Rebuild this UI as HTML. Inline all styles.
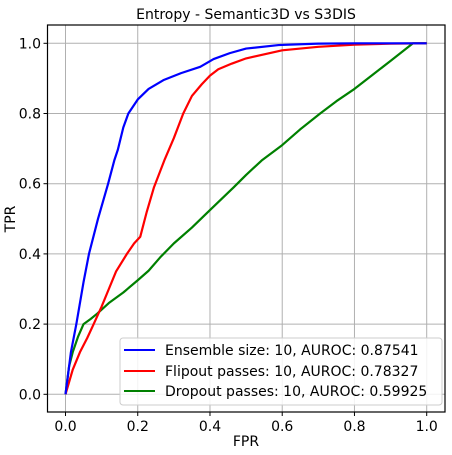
<!DOCTYPE html>
<html><head><meta charset="utf-8"><style>
html,body{margin:0;padding:0;background:#fff;}
svg{display:block;font-family:"DejaVu Sans","Liberation Sans",sans-serif;}
</style></head><body>
<svg id="chart" width="452" height="455">
<rect width="452" height="455" fill="#fff"/>
<text x="246" y="19" text-anchor="middle" font-size="14">Entropy - Semantic3D vs S3DIS</text>
<g id="grid"></g>
<g id="series"></g>
<rect x="47.5" y="25" width="397.5" height="387" fill="none" stroke="#000" stroke-width="1.2"/>
<g id="ticks" font-size="14"></g>
<text x="246" y="446" text-anchor="middle" font-size="14">FPR</text>
<text transform="translate(15,219) rotate(-90)" text-anchor="middle" font-size="14">TPR</text>
<g>
<rect x="120" y="338" width="322" height="67" rx="3" fill="#fff" fill-opacity="0.85" stroke="#ccc"/>
<line x1="124" y1="350" x2="155" y2="350" stroke="#0000ff" stroke-width="2"/>
<text x="165" y="355" font-size="14">Ensemble size: 10, AUROC: 0.87541</text>
<line x1="124" y1="371" x2="155" y2="371" stroke="#ff0000" stroke-width="2"/>
<text x="165" y="376" font-size="14">Flipout passes: 10, AUROC: 0.78327</text>
<line x1="124" y1="391" x2="155" y2="391" stroke="#008000" stroke-width="2"/>
<text x="165" y="396" font-size="14">Dropout passes: 10, AUROC: 0.59925</text>
</g>
</svg>
<script>
const ticks=[0,0.2,0.4,0.6,0.8,1.0];
const tickLabels=["0.0","0.2","0.4","0.6","0.8","1.0"];
const blueFpr=[0,0.015,0.03,0.05,0.065,0.09,0.118,0.135,0.145,0.16,0.174,0.2,0.23,0.271,0.32,0.373,0.41,0.455,0.5,0.59,0.7,0.8,1];
const blueTpr=[0,0.12,0.2,0.32,0.4,0.5,0.6,0.666,0.697,0.76,0.8,0.84,0.87,0.895,0.915,0.933,0.955,0.972,0.985,0.995,0.999,1,1];
const redFpr=[0,0.02,0.04,0.06,0.078,0.1,0.12,0.14,0.17,0.19,0.207,0.225,0.245,0.275,0.3,0.326,0.35,0.377,0.4,0.423,0.46,0.5,0.6,0.7,0.8,0.9,1];
const redTpr=[0,0.07,0.12,0.16,0.2,0.25,0.3,0.35,0.4,0.43,0.449,0.52,0.59,0.67,0.73,0.8,0.85,0.883,0.908,0.926,0.942,0.957,0.98,0.99,0.996,0.999,1];
const greenFpr=[0,0.01,0.02,0.035,0.05,0.07,0.088,0.12,0.16,0.2,0.23,0.262,0.3,0.35,0.4,0.466,0.5,0.543,0.6,0.65,0.705,0.75,0.8,0.85,0.9,0.962,1];
const greenTpr=[0,0.08,0.12,0.165,0.2,0.215,0.23,0.26,0.29,0.325,0.352,0.39,0.43,0.475,0.525,0.59,0.625,0.666,0.71,0.755,0.8,0.835,0.87,0.91,0.95,1,1];
const X=v=>65.5+v*361.2, Y=v=>394.3-v*351;
const NS="http://www.w3.org/2000/svg";
const grid=document.getElementById('grid'),tk=document.getElementById('ticks'),ser=document.getElementById('series');
function mk(tag,at,parent){const e=document.createElementNS(NS,tag);for(const k in at)e.setAttribute(k,at[k]);parent.appendChild(e);return e;}
ticks.forEach((t,i)=>{
 const gv=mk('line',{x1:X(t),x2:X(t),y1:25,y2:412,stroke:'#b0b0b0','stroke-width':1},grid);
 
 
 const gh=mk('line',{x1:47.5,x2:445,y1:Y(t),y2:Y(t),stroke:'#b0b0b0','stroke-width':1},grid);
 
 
 mk('line',{x1:X(t),x2:X(t),y1:412,y2:416,stroke:'#000'},tk);
 mk('line',{x1:43.5,x2:47.5,y1:Y(t),y2:Y(t),stroke:'#000'},tk);
 const xl=mk('text',{x:X(t),y:431,'text-anchor':'middle'},tk);xl.textContent=tickLabels[i];
 
 
 const yl=mk('text',{x:41,y:Y(t)+5,'text-anchor':'end'},tk);yl.textContent=tickLabels[i];
 
 
});
[[greenFpr,greenTpr,'#008000','dropout-curve'],[redFpr,redTpr,'#ff0000','flipout-curve'],[blueFpr,blueTpr,'#0000ff','ensemble-curve']].forEach(([xs,ys,c,n])=>{
 const p=mk('polyline',{points:xs.map((v,i)=>X(v)+','+Y(ys[i])).join(' '),fill:'none',stroke:c,'stroke-width':2.2,'stroke-linejoin':'round'},ser);
 
 
});
</script>
</body></html>
